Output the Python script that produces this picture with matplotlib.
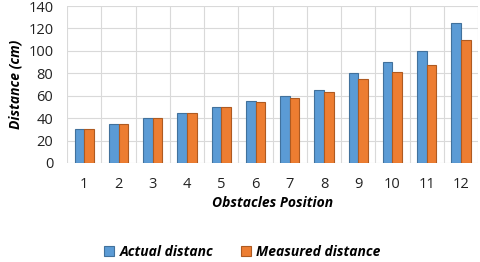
import matplotlib
matplotlib.use("Agg")
import matplotlib.pyplot as plt
import numpy as np

positions = ["1", "2", "3", "4", "5", "6", "7", "8", "9", "10", "11", "12"]
actual = [30, 35, 40, 45, 50, 55, 60, 65, 80, 90, 100, 125]
measured = [30, 35, 40, 45, 50, 54, 58, 63, 75, 81, 87, 110]

plt.rcParams['font.family'] = ['Open Sans', 'DejaVu Sans']

fig = plt.figure(figsize=(4.8, 2.62), dpi=100)
ax = fig.add_axes([0.14, 0.378, 0.856, 0.599])

x = np.arange(1, len(positions) + 1)
w = 0.28
ax.bar(x - w/2, actual, w, color='#5B9BD5', edgecolor='#41719C', linewidth=0.8,
       label='Actual distanc', zorder=3)
ax.bar(x + w/2, measured, w, color='#ED7D31', edgecolor='#AE5A21', linewidth=0.8,
       label='Measured distance', zorder=3)

ax.set_xlim(0.5, 12.5)
ax.set_ylim(0, 140)
ax.set_yticks(range(0, 141, 20))
ax.set_xticks(x)
ax.set_xticklabels(positions)
ax.set_xticks(np.arange(0.5, 12.6, 1), minor=True)
ax.grid(True, axis='y', color='#D9D9D9', linewidth=0.8, zorder=0)
ax.grid(True, axis='x', which='minor', color='#D9D9D9', linewidth=0.8, zorder=0)
ax.tick_params(axis='both', which='both', length=0, labelsize=10.5, colors='#222222')
ax.tick_params(axis='y', pad=10)
ax.tick_params(axis='x', pad=10)
for s in ax.spines.values():
    s.set_visible(False)

ax.set_xlabel('Obstacles Position', fontsize=10, fontweight='bold', fontstyle='italic', labelpad=3)
ax.set_ylabel('Distance (cm)', fontsize=10, fontweight='bold', fontstyle='italic', labelpad=4)

fig.legend(loc='lower center', bbox_to_anchor=(0.505, -0.035), ncol=2, frameon=False,
           prop={'size': 10, 'weight': 'bold', 'style': 'italic'},
           handlelength=0.7, handleheight=0.7, columnspacing=2.0, handletextpad=0.4)

fig.savefig('out.png', dpi=100)
